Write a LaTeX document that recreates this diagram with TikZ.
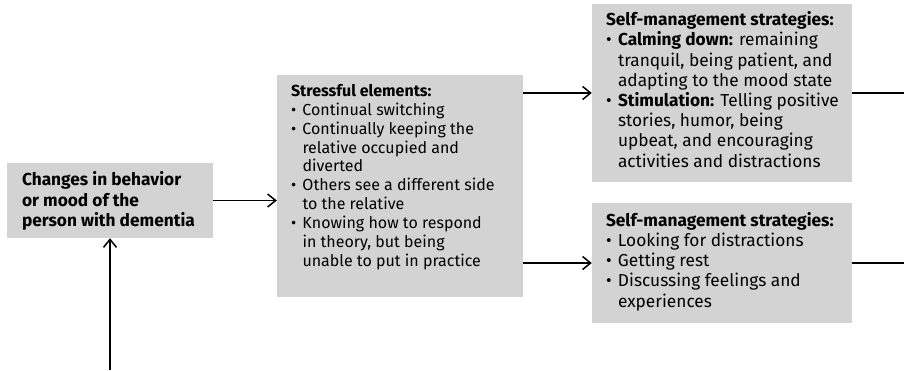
\documentclass[tikz,border=0pt]{standalone}
\usepackage{fontspec}
\setmainfont{Fira Sans}
\usetikzlibrary{arrows.meta}
\newcommand{\bl}{\makebox[11.5pt][l]{•}}
\newcommand{\ind}{\hspace*{11.5pt}}
\newcommand{\blb}{\makebox[12pt][l]{•}}
\newcommand{\indb}{\hspace*{12pt}}
\definecolor{boxgray}{HTML}{D3D3D3}
\begin{document}
\begin{tikzpicture}[x=1pt,y=-1pt,
  box/.style={draw=none,fill=boxgray,inner sep=0pt,anchor=center},
  txt/.style={align=left,inner sep=0pt,anchor=west},
  small/.style={font=\fontsize{16}{18.9}\selectfont},
  large/.style={font=\fontsize{17.3}{20.2}\selectfont},
  conn/.style={line width=1.5pt,draw=black},
  arr/.style={conn,-{Straight Barb[length=8pt,width=13pt,line width=1.5pt]}}]
\useasboundingbox (0,0) rectangle (904,370);
\node[box,minimum width=206pt,minimum height=75pt] (b1) at (110,200.5) {};
\node[box,minimum width=246pt,minimum height=222pt] (b2) at (400,186) {};
\node[box,minimum width=260pt,minimum height=178pt] (b3) at (722,93) {};
\node[box,minimum width=260pt,minimum height=120pt] (b4) at (722,263) {};
\node[txt,font=\fontsize{17.3}{20.6}\selectfont\bfseries] (t1) at ([xshift=15pt,yshift=-0.5pt]b1.west) {Changes in behavior\\or mood of the\\person with dementia};
\node[txt,small] (t2) at ([xshift=14pt,yshift=9pt]b2.west) {\textbf{Stressful elements:}\\
\bl Continual switching\\
\bl Continually keeping the\\
\ind relative occupied and\\
\ind diverted\\
\bl Others see a different side\\
\ind to the relative\\
\bl Knowing how to respond\\
\ind in theory, but being\\
\ind unable to put in practice};
\node[txt,large] (t3) at ([xshift=14pt,yshift=3.5pt]b3.west) {\textbf{Self-management strategies:}\\
\blb\textbf{Calming down:} remaining\\
\indb tranquil, being patient, and\\
\indb adapting to the mood state\\
\blb\textbf{Stimulation:} Telling positive\\
\indb stories, humor, being\\
\indb upbeat, and encouraging\\
\indb activities and distractions};
\node[txt,large] (t4) at ([xshift=14pt,yshift=1.5pt]b4.west) {\textbf{Self-management strategies:}\\
\blb Looking for distractions\\
\blb Getting rest\\
\blb Discussing feelings and\\
\indb experiences};
\coordinate (in1) at (110,370);
\coordinate (o3) at (904,93);
\coordinate (o4) at (904,263);
\draw[arr] (b1.east) -- (b1.east -| b2.west);
\draw[arr] (b2.east |- b3.west) -- (b3.west);
\draw[arr] (b2.east |- b4.west) -- (b4.west);
\draw[conn] (b3.east) -- (o3);
\draw[conn] (b4.east) -- (o4);
\draw[arr] (in1) -- (b1.south);
\end{tikzpicture}
\end{document}
